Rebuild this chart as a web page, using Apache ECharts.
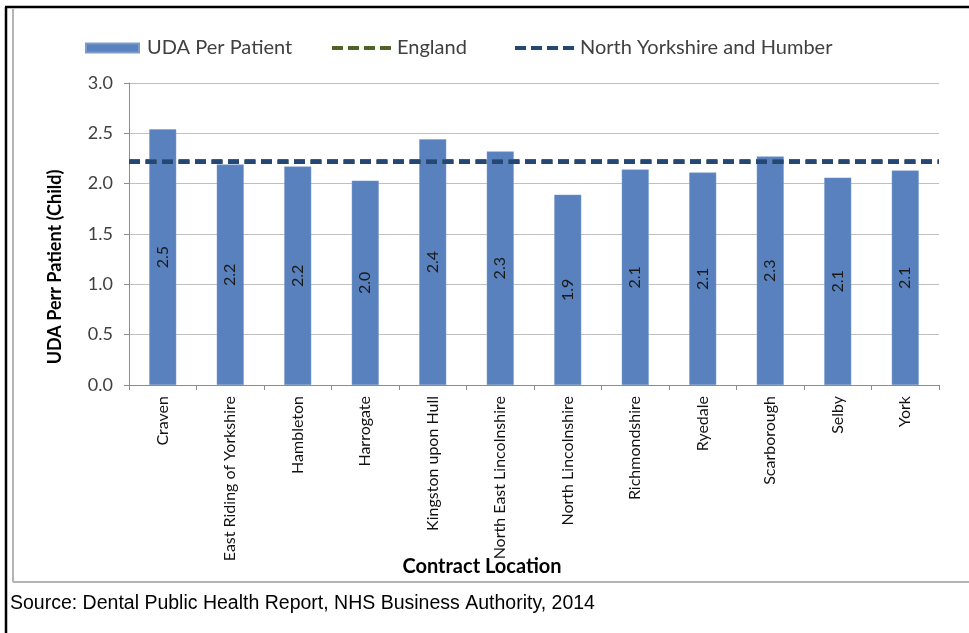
<!DOCTYPE html>
<html>
<head>
<meta charset="utf-8">
<script src="https://cdn.jsdelivr.net/npm/echarts@6/dist/echarts.min.js"></script>
<style>
html,body{margin:0;padding:0;background:#fff;}
#chart{width:969px;height:633px;}
</style>
</head>
<body>
<div id="chart"></div>
<script>
const categories = ["Craven","East Riding of Yorkshire","Hambleton","Harrogate","Kingston upon Hull","North East Lincolnshire","North Lincolnshire","Richmondshire","Ryedale","Scarborough","Selby","York"];
const udaPerPatient = [2.54,2.19,2.17,2.03,2.44,2.32,1.89,2.14,2.11,2.27,2.06,2.13];
const englandValue = 2.22;
const nyhValue = 2.22;
const yTicks = [0,0.5,1,1.5,2,2.5,3];

const FONT = 'Lato';
const dashIcon = 'path://M0,0h11v4h-11z M16,0h11v4h-11z M32,0h11v4h-11z M48,0h11v4h-11z';

const chart = echarts.init(document.getElementById('chart'), null, {renderer:'canvas'});
chart.setOption({
  animation:false,
  backgroundColor:'#fff',
  textStyle:{fontFamily:FONT},
  grid:{left:129,right:30,top:83,bottom:248,containLabel:false},
  legend:[
    {left:80,top:33,itemWidth:53,itemHeight:9,icon:'rect',data:['UDA Per Patient'],
     textStyle:{fontFamily:FONT,fontSize:20,color:'#404040',padding:[0,0,0,3]}},
    {left:327,top:33,itemWidth:65,itemHeight:4,icon:dashIcon,data:['England'],itemGap:0,
     textStyle:{fontFamily:FONT,fontSize:20,color:'#404040',padding:[0,0,0,-2]}},
    {left:510,top:33,itemWidth:65,itemHeight:4,icon:dashIcon,data:['North Yorkshire and Humber'],
     textStyle:{fontFamily:FONT,fontSize:20,color:'#404040',padding:[0,0,0,-2]}}
  ],
  xAxis:{
    type:'category',data:categories,
    axisLine:{lineStyle:{color:'#8c8c8c',width:1}},
    axisTick:{show:true,length:5,lineStyle:{color:'#8c8c8c'}},
    axisLabel:{rotate:90,margin:11,fontFamily:FONT,fontSize:16,color:'#111',interval:0}
  },
  yAxis:{
    type:'value',min:0,max:3,interval:0.5,
    axisLine:{show:true,lineStyle:{color:'#8c8c8c'}},
    axisTick:{show:true,length:5,lineStyle:{color:'#8c8c8c'}},
    splitLine:{lineStyle:{color:'#c0c0c0',width:1}},
    axisLabel:{margin:16,fontFamily:FONT,fontSize:18,color:'#404040',
      formatter:v=>v.toFixed(1)}
  },
  series:[
    {name:'UDA Per Patient',type:'bar',data:udaPerPatient,barWidth:'40%',
     itemStyle:{color:'#5881bd',borderColor:'#7a9ccc',borderWidth:0.5},
     label:{show:true,position:'inside',rotate:90,fontFamily:FONT,fontSize:16,color:'#1a1a1a',
       formatter:p=>p.value.toFixed(1)},
     z:2},
    {name:'England',type:'line',data:[],color:'#4f6228',
     markLine:{silent:true,symbol:'none',label:{show:false},
       lineStyle:{color:'#4f6228',width:5,type:[11,5.5]},
       data:[{yAxis:englandValue}]},z:3},
    {name:'North Yorkshire and Humber',type:'line',data:[],color:'#254775',
     markLine:{silent:true,symbol:'none',label:{show:false},
       lineStyle:{color:'#254775',width:4,type:[11,5.5]},
       data:[{yAxis:nyhValue}]},z:4}
  ],
  graphic:[
    {type:'line',shape:{x1:6,y1:7,x2:6,y2:633},style:{stroke:'#000',lineWidth:2.5},silent:true},
    {type:'line',shape:{x1:5,y1:7,x2:969,y2:7},style:{stroke:'#000',lineWidth:2.5},silent:true},
    {type:'line',shape:{x1:13,y1:9,x2:13,y2:582},style:{stroke:'#b4b4b4',lineWidth:2},silent:true},
    {type:'line',shape:{x1:13,y1:582,x2:969,y2:582},style:{stroke:'#b4b4b4',lineWidth:2},silent:true},
    {type:'text',x:55,y:267,rotation:Math.PI/2,
     style:{text:'UDA Perr Patient (Child)',font:'bold 18px Lato',fill:'#000',align:'center',verticalAlign:'middle'}},
    {type:'text',x:482,y:567,
     style:{text:'Contract Location',font:'bold 20px Lato',fill:'#000',align:'center',verticalAlign:'middle'}},
    {type:'text',x:10,y:604,
     style:{text:'Source: Dental Public Health Report, NHS Business Authority, 2014',font:'19.5px "Liberation Sans"',fill:'#000',align:'left',verticalAlign:'middle'}}
  ]
});
</script>
</body>
</html>
